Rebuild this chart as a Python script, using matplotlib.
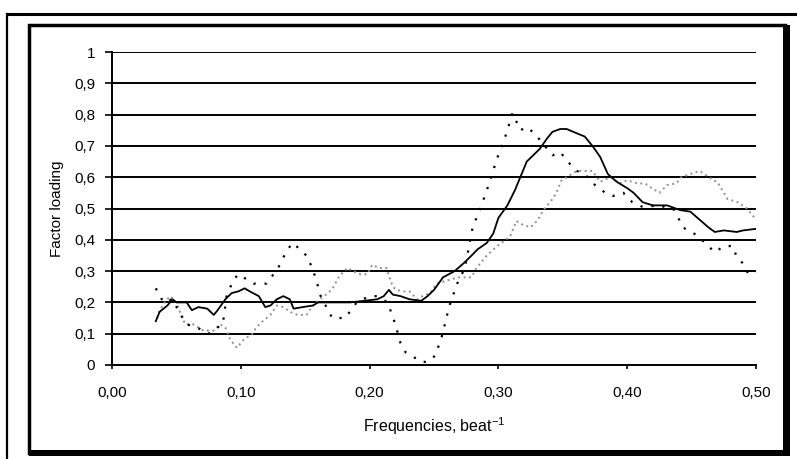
import matplotlib
matplotlib.use("Agg")
import matplotlib.pyplot as plt
from matplotlib.lines import Line2D
from matplotlib.patches import Rectangle
from matplotlib.ticker import FixedLocator

plt.rcParams['font.family'] = ['Liberation Sans', 'DejaVu Sans']

# Series A (solid)
xa = [0.034,0.037,0.043,0.047,0.050,0.058,0.062,0.067,0.074,0.079,0.082,0.088,0.093,0.098,0.103,0.107,0.114,0.119,0.123,0.128,
      0.133,0.138,0.141,0.148,0.156,0.160,0.168,0.185,0.206,0.211,0.215,0.218,0.224,0.231,0.240,0.245,0.250,0.257,0.266,0.273,
      0.278,0.284,0.291,0.296,0.300,0.307,0.313,0.318,0.322,0.327,0.332,0.338,0.342,0.348,0.353,0.361,0.367,0.373,0.379,0.385,
      0.392,0.400,0.405,0.412,0.420,0.431,0.441,0.449,0.456,0.463,0.468,0.475,0.485,0.490,0.500]
ya = [0.14,0.17,0.19,0.21,0.20,0.20,0.175,0.185,0.18,0.16,0.175,0.21,0.23,0.235,0.245,0.235,0.22,0.185,0.19,0.21,
      0.22,0.21,0.18,0.185,0.19,0.20,0.20,0.20,0.21,0.22,0.24,0.225,0.22,0.21,0.205,0.22,0.24,0.28,0.30,0.325,
      0.345,0.37,0.39,0.42,0.47,0.51,0.56,0.61,0.65,0.67,0.69,0.725,0.745,0.754,0.754,0.74,0.73,0.70,0.665,0.61,
      0.585,0.565,0.55,0.52,0.51,0.51,0.495,0.49,0.465,0.44,0.425,0.43,0.425,0.43,0.435]

# Series B (sparse black dots)
xb = [0.034,0.040,0.047,0.052,0.058,0.066,0.075,0.082,0.086,0.089,0.094,0.098,0.102,0.110,0.120,0.129,0.135,0.140,0.146,0.152,
      0.158,0.162,0.171,0.181,0.190,0.200,0.206,0.214,0.220,0.224,0.228,0.234,0.240,0.245,0.251,0.256,0.262,0.268,0.274,0.280,
      0.286,0.292,0.299,0.305,0.311,0.317,0.322,0.328,0.334,0.342,0.348,0.356,0.361,0.367,0.375,0.383,0.389,0.397,0.404,0.412,
      0.425,0.437,0.443,0.454,0.463,0.468,0.475,0.482,0.485,0.491,0.494,0.500]
yb = [0.245,0.20,0.21,0.17,0.13,0.12,0.10,0.12,0.13,0.22,0.27,0.29,0.28,0.26,0.26,0.31,0.36,0.39,0.37,0.345,
      0.28,0.22,0.15,0.15,0.20,0.22,0.22,0.20,0.13,0.07,0.04,0.026,0.01,0.01,0.03,0.09,0.19,0.26,0.31,0.44,
      0.50,0.57,0.66,0.725,0.805,0.75,0.76,0.74,0.71,0.67,0.68,0.64,0.62,0.61,0.575,0.55,0.54,0.55,0.52,0.505,
      0.51,0.495,0.44,0.415,0.38,0.36,0.38,0.38,0.345,0.32,0.29,0.30]

# Series C (grey dense dots)
xc = [0.035,0.037,0.041,0.045,0.050,0.054,0.057,0.063,0.071,0.079,0.084,0.088,0.092,0.097,0.102,0.109,0.112,0.117,0.123,0.128,
      0.133,0.138,0.144,0.151,0.155,0.161,0.168,0.172,0.176,0.180,0.183,0.187,0.193,0.198,0.202,0.207,0.213,0.218,0.221,0.226,
      0.231,0.237,0.241,0.247,0.252,0.260,0.269,0.279,0.283,0.291,0.299,0.309,0.314,0.318,0.325,0.330,0.335,0.342,0.345,0.349,
      0.353,0.361,0.366,0.373,0.379,0.387,0.394,0.400,0.408,0.414,0.419,0.425,0.431,0.438,0.442,0.449,0.456,0.460,0.467,0.470,
      0.475,0.478,0.486,0.493,0.499]
yc = [0.15,0.175,0.20,0.22,0.20,0.155,0.13,0.13,0.11,0.11,0.13,0.12,0.08,0.055,0.08,0.10,0.12,0.14,0.16,0.19,
      0.185,0.17,0.16,0.16,0.185,0.21,0.23,0.25,0.28,0.30,0.31,0.30,0.29,0.29,0.32,0.31,0.31,0.25,0.24,0.235,
      0.235,0.21,0.22,0.23,0.26,0.27,0.28,0.28,0.31,0.35,0.38,0.41,0.46,0.45,0.44,0.46,0.495,0.53,0.55,0.59,
      0.60,0.62,0.62,0.62,0.585,0.60,0.58,0.59,0.58,0.58,0.565,0.55,0.575,0.58,0.60,0.61,0.62,0.61,0.59,0.585,
      0.55,0.53,0.52,0.50,0.47]

xticks = [0.0, 0.1, 0.2, 0.3, 0.4, 0.5]
xticklabels = ["0,00", "0,10", "0,20", "0,30", "0,40", "0,50"]
yticks = [0, 0.1, 0.2, 0.3, 0.4, 0.5, 0.6, 0.7, 0.8, 0.9, 1.0]
yticklabels = ["0", "0,1", "0,2", "0,3", "0,4", "0,5", "0,6", "0,7", "0,8", "0,9", "1"]

W, H = 797, 459
fig = plt.figure(figsize=(W / 100, H / 100), dpi=100)
fig.patch.set_facecolor("white")

def fx(px):
    return px / W

def fy(py):
    return 1 - py / H

# Outer frame lines (top and left)
fig.add_artist(Line2D([fx(7), fx(797)], [fy(13.5), fy(13.5)], color="black", lw=2.2))
fig.add_artist(Line2D([fx(7), fx(7)], [fy(13.5), fy(459)], color="black", lw=1.6))
# Inner chart box with shadow
fig.add_artist(Rectangle((fx(28.5), fy(453)), fx(785) - fx(28.5), fy(25) - fy(453),
                         fill=False, edgecolor="black", lw=2.5))
fig.add_artist(Rectangle((fx(783), fy(456)), fx(790) - fx(783), fy(25) - fy(456),
                         facecolor="black", edgecolor="none"))
fig.add_artist(Rectangle((fx(28.5), fy(456)), fx(790) - fx(28.5), fy(450) - fy(456),
                         facecolor="black", edgecolor="none"))

ax = fig.add_axes([fx(112), fy(365), fx(756) - fx(112), fy(52) - fy(365)])
ax.set_xlim(0, 0.5)
ax.set_ylim(0, 1)
ax.set_facecolor("white")
ax.patch.set_alpha(0)

for y in yticks[1:]:
    ax.axhline(y, color="black", lw=1.4, zorder=1)

ax.plot(xc, yc, color="#909090", lw=1.4, linestyle=(0, (1, 1.8)), zorder=3)
ax.plot(xb, yb, color="black", lw=1.6, linestyle=(0, (1, 4)), zorder=3)
ax.plot(xa, ya, color="black", lw=1.3, zorder=4)

for s in ["top", "right"]:
    ax.spines[s].set_visible(False)
ax.spines["left"].set_linewidth(1.4)
ax.spines["bottom"].set_linewidth(1.4)

ax.xaxis.set_major_locator(FixedLocator(xticks))
ax.set_xticklabels(xticklabels)
ax.yaxis.set_major_locator(FixedLocator(yticks))
ax.set_yticklabels(yticklabels)
ax.tick_params(axis="y", direction="out", length=5, width=1.2, pad=7, labelsize=11)
ax.tick_params(axis="x", direction="out", length=3, width=1.2, pad=12, labelsize=11)

ax.set_ylabel("Factor loading", fontsize=11, labelpad=7)
ax.set_xlabel(r"Frequencies, beat$^{\mathregular{-1}}$", fontsize=11.5, labelpad=11)

fig.savefig("out.png", dpi=100, facecolor="white")
